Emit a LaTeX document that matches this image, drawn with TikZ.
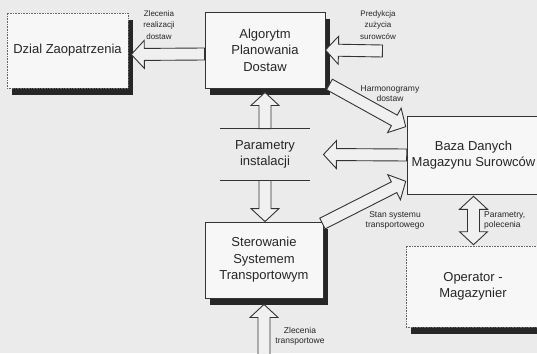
\documentclass[tikz,border=0pt]{standalone}
\usepackage{fontspec}
\setmainfont{Liberation Sans}
\usetikzlibrary{calc,positioning,shadows}

\tikzset{
  box/.style={draw=black!80, line width=0.9pt, fill=black!3, align=center, inner sep=2pt,
    text=black!85, font=\fontsize{13}{16.5}\selectfont},
  shadebox/.style={box, drop shadow={shadow xshift=5pt, shadow yshift=-7pt, fill=black!85, opacity=1}},
  dotbox/.style={shadebox, draw=black!60, line width=0.6pt, densely dotted},
  lbl/.style={font=\fontsize{8.5}{10}\selectfont, align=center, text=black!85, inner sep=0pt},
  hollow/.style={draw=black!80, fill=black!6, line width=0.9pt, line join=miter}
}

% hollow block arrow from #1 to #2
\newcommand{\blockarrow}[2]{%
  \coordinate (ba-h) at ($(#2)!13pt!(#1)$);
  \draw[hollow] ($(#1)!6pt!90:(#2)$) -- ($(ba-h)!6pt!90:(#2)$) -- ($(ba-h)!14pt!90:(#2)$)
    -- (#2) -- ($(ba-h)!14pt!-90:(#2)$) -- ($(ba-h)!6pt!-90:(#2)$) -- ($(#1)!6pt!-90:(#2)$) -- cycle;}
% hollow arrow with heads at both ends
\newcommand{\twowayarrow}[2]{%
  \coordinate (da-a) at ($(#1)!13pt!(#2)$);
  \coordinate (da-b) at ($(#2)!13pt!(#1)$);
  \draw[hollow] (#1) -- ($(da-a)!14pt!90:(#2)$) -- ($(da-a)!6pt!90:(#2)$) -- ($(da-b)!6pt!90:(#2)$)
    -- ($(da-b)!14pt!90:(#2)$) -- (#2) -- ($(da-b)!14pt!-90:(#2)$) -- ($(da-b)!6pt!-90:(#2)$)
    -- ($(da-a)!6pt!-90:(#2)$) -- ($(da-a)!14pt!-90:(#2)$) -- cycle;}

\begin{document}
\begin{tikzpicture}[x=1pt,y=-1pt]
\fill[black!8,use as bounding box] (0,0) rectangle (537,353);
\clip (0,0) rectangle (537,353);

\node[dotbox,minimum width=121pt,minimum height=75pt] (dzial) at (67.5,50.5) {Dzial Zaopatrzenia};
\node[shadebox,minimum width=120pt,minimum height=76pt] (alg) at (265,50) {Algorytm\\Planowania\\Dostaw};
\node[shadebox,minimum width=118pt,minimum height=76pt] (ster) at (264,260) {Sterowanie\\Systemem\\Transportowym};
\node[box,line width=0.6pt,minimum width=133pt,minimum height=78pt] (baza) at (473.5,155) {Baza Danych\\Magazynu Surowców};
\node[dotbox,minimum width=134pt,minimum height=81pt] (oper) at (473,286.5) {Operator -\\Magazynier};
\node[box,draw=none,fill=none,minimum width=90pt,minimum height=51pt] (param) at (265,154.5) {Parametry\\instalacji};
\draw[black!80,line width=0.9pt] (param.north west) -- (param.north east) (param.south west) -- (param.south east);

% connectors
\coordinate (zr-s) at ($(alg.west)+(0,4)$);
\coordinate (zr-e) at ($(dzial.east)+(3,4)$);
\blockarrow{zr-s}{zr-e}
\coordinate (pred) at ($(alg.east)+(57,1)$);
\blockarrow{pred}{alg.east}
\coordinate (hd-s) at ($(alg.south east)+(4,-4)$);
\coordinate (hd-e) at ($(baza.north west)+(-1,11)$);
\blockarrow{hd-s}{hd-e}
\coordinate (pi-e) at ($(param.east)+(13,0)$);
\blockarrow{baza.west}{pi-e}
\coordinate (pi-u) at ($(param.north |- alg.south)+(0,4)$);
\blockarrow{param.north}{pi-u}
\coordinate (pi-d) at (param.south |- ster.north);
\blockarrow{param.south}{pi-d}
\coordinate (st-s) at ($(ster.north east)+(-1,2)$);
\coordinate (st-e) at ($(baza.south west)+(-1,-13)$);
\blockarrow{st-s}{st-e}
\coordinate (zt-s) at ($(ster.south)+(0,60)$);
\coordinate (zt-e) at ($(ster.south)+(0,6)$);
\blockarrow{zt-s}{zt-e}
\coordinate (op-s) at ($(baza.south)+(0,2)$);
\coordinate (op-e) at ($(op-s |- oper.north)+(0,-1)$);
\twowayarrow{op-s}{op-e}

% labels
\node[lbl,font=\fontsize{8}{11.5}\selectfont] (lzr) at (159,25) {Zlecenia\\realizacji\\dostaw};
\node[lbl,font=\fontsize{8}{11.5}\selectfont] (lpz) at (378,25) {Predykcja\\zużycia\\surowców};
\node[lbl] (lhd) at (390,94) {Harmonogramy\\dostaw};
\node[lbl] (lss) at (395,220) {Stan systemu\\transportowego};
\node[lbl,align=left,anchor=west] (lpp) at (484,220) {Parametry,\\polecenia};
\node[lbl] (lzt) at (300,336) {Zlecenia\\transportowe};
\end{tikzpicture}
\end{document}
